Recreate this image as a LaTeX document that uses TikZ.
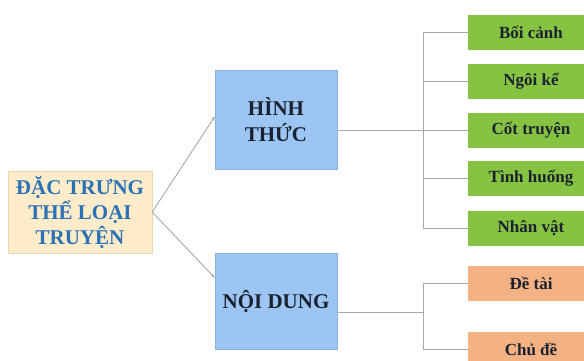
\documentclass[tikz,border=0pt]{standalone}
\usepackage{fontspec}
\setmainfont{Liberation Serif}
\usetikzlibrary{arrows.meta, positioning, calc}
\definecolor{rootFill}{HTML}{FDEBC9}
\definecolor{rootEdge}{HTML}{EAD7B0}
\definecolor{rootText}{HTML}{2A72B5}
\definecolor{blueFill}{HTML}{9CC5F3}
\definecolor{blueEdge}{HTML}{8AB2DE}
\definecolor{greenFill}{HTML}{86C342}
\definecolor{orangeFill}{HTML}{F4B184}
\definecolor{darkText}{HTML}{1A2230}
\definecolor{lineGray}{HTML}{A8A8A8}
\tikzset{
  lineG/.style={draw=lineGray, line width=0.9pt},
  arrowG/.style={-{Stealth[length=4pt, width=3pt]}, lineGray, line width=0.9pt},
  boxRoot/.style={rectangle, fill=rootFill, draw=rootEdge, text=rootText,
                  align=center, font=\bfseries\fontsize{21}{25}\selectfont,
                  minimum width=144pt, minimum height=82pt, inner sep=0pt},
  boxBlue/.style={rectangle, fill=blueFill, draw=blueEdge, text=darkText,
                  align=center, font=\bfseries\fontsize{21}{26}\selectfont,
                  minimum width=122pt, inner sep=0pt},
  boxGreen/.style={rectangle, fill=greenFill, text=darkText, align=center,
                   font=\bfseries\fontsize{17}{20}\selectfont,
                   minimum width=126pt, minimum height=35pt, inner sep=0pt},
  boxOrange/.style={rectangle, fill=orangeFill, text=darkText, align=center,
                    font=\bfseries\fontsize{17}{20}\selectfont,
                    minimum width=126pt, minimum height=35pt, inner sep=0pt},
}
\begin{document}
\begin{tikzpicture}[x=1pt, y=-1pt]
    \useasboundingbox (0,0) rectangle (584,360);
    \clip (0,0) rectangle (584,360);
    \fill[white] (0,0) rectangle (584,360);
    % main boxes
    \node[boxRoot] (root) at (80,212) {ĐẶC TRƯNG\\THỂ LOẠI\\TRUYỆN};
    \node[boxBlue, minimum height=99pt] (ht) at (276,119.5) {HÌNH\\THỨC};
    \node[boxBlue, minimum height=96pt] (nd) at (276,301) {NỘI DUNG};
    % leaves
    \node[boxGreen] (bc) at (531,32) {Bối cảnh};
    \node[boxGreen] (nk) at (531,81.5) {Ngôi kể};
    \node[boxGreen] (ct) at (531,130) {Cốt truyện};
    \node[boxGreen] (th) at (531,178.5) {Tình huống};
    \node[boxGreen] (nv) at (531,228.5) {Nhân vật};
    \node[boxOrange] (dt) at (531,283) {Đề tài};
    \node[boxOrange] (cd) at (531,349) {Chủ đề};
    % connectors
    \draw[arrowG] (root.east) -- ($(ht.north west)!0.47!(ht.south west)$);
    \draw[arrowG] (root.east) -- ($(nd.north west)!0.26!(nd.south west)$);
    \coordinate (jh) at (423,130);
    \coordinate (jn) at (423,312);
    \draw[lineG] (ht.east |- jh) -- (ct.west);
    \draw[lineG] (jh |- bc) -- (jh |- nv);
    \foreach \n in {bc, nk, th, nv} \draw[lineG] (jh |- \n.west) -- (\n.west);
    \draw[lineG] (nd.east |- jn) -- (jn);
    \draw[lineG] (jn |- dt) -- (jn |- cd);
    \foreach \n in {dt, cd} \draw[lineG] (jn |- \n.west) -- (\n.west);
\end{tikzpicture}
\end{document}
